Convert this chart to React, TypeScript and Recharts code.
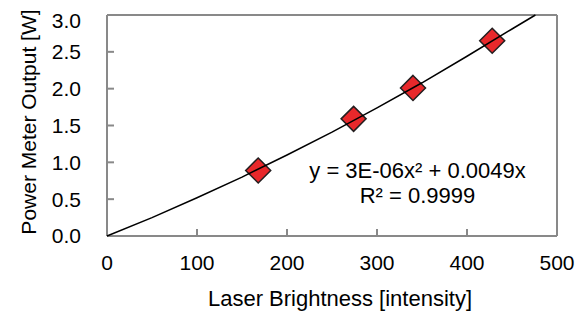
import { ScatterChart, Scatter, XAxis, YAxis, ReferenceLine, ReferenceDot } from 'recharts'

// measured points: brightness vs power meter output
const brightness = [168, 274, 340, 428]
const powerW = [0.89, 1.59, 2.01, 2.65]

// polynomial trendline
const trendX = [0, 50, 100, 150, 200, 250, 300, 350, 400, 450, 476]
const trendY = [0, 0.25, 0.52, 0.80, 1.10, 1.41, 1.74, 2.08, 2.44, 2.81, 3.0]

const xTicks = [0, 100, 200, 300, 400, 500]
const yTicks = [0, 0.5, 1.0, 1.5, 2.0, 2.5, 3.0]

const eqLine1 = 'y = 3E-06x² + 0.0049x'
const eqLine2 = 'R² = 0.9999'

const points = brightness.map((x, i) => ({ x, y: powerW[i] }))
const trend = trendX.map((x, i) => ({ x, y: trendY[i] }))

const FONT = '"Liberation Sans", Arial, sans-serif'
const AXIS = '#898989'

const Diamond = (props: any) => {
  const { cx, cy } = props
  const h = 12.5
  return (
    <path
      d={`M${cx},${cy - h} L${cx + h},${cy} L${cx},${cy + h} L${cx - h},${cy} Z`}
      fill="#e8282b"
      stroke="#231f20"
      strokeWidth={1.5}
    />
  )
}

export default function App() {
  return (
    <div style={{ fontFamily: FONT }}>
      <ScatterChart width={576} height={307} margin={{ top: 7, right: 27, left: 0, bottom: 0 }}>
        <XAxis
          type="number"
          dataKey="x"
          domain={[0, 500]}
          ticks={xTicks}
          height={79}
          stroke={AXIS}
          strokeWidth={2}
          tickSize={-7}
          tickMargin={26}
          tick={{ fill: '#000', fontSize: 21, fontFamily: FONT }}
          label={{ value: 'Laser Brightness [intensity]', position: 'insideBottom', offset: 9, dx: 8, fill: '#000', fontSize: 22, fontFamily: FONT }}
        />
        <YAxis
          type="number"
          dataKey="y"
          domain={[0, 3]}
          ticks={yTicks}
          width={99}
          stroke={AXIS}
          strokeWidth={2}
          tickSize={-7}
          tickMargin={33}
          tickFormatter={(v) => Number(v).toFixed(1)}
          tick={{ fill: '#000', fontSize: 21, fontFamily: FONT }}
          label={{
            content: () => (
              <text x={20} y={114} transform="rotate(-90, 20, 114)" textAnchor="middle" dominantBaseline="central" fill="#000" fontSize={21} fontFamily={FONT}>
                Power Meter Output [W]
              </text>
            ),
          }}
        />
        <ReferenceLine y={3} stroke={AXIS} strokeWidth={2} />
        <ReferenceLine x={500} stroke={AXIS} strokeWidth={2} />
        <Scatter data={points} shape={<Diamond />} isAnimationActive={false} />
        <Scatter
          data={trend}
          line={{ stroke: '#000', strokeWidth: 1.5 }}
          lineType="joint"
          shape={() => <g />}
          isAnimationActive={false}
        />
        <ReferenceDot
          x={345}
          y={0.79}
          r={1}
          fill="none"
          stroke="none"
          label={{
            content: (p: any) => {
              const vb = p.viewBox || {}
              const cx = (vb.x ?? 0) + (vb.width ?? 0) / 2
              const cy = (vb.y ?? 0) + (vb.height ?? 0) / 2
              return (
                <text textAnchor="middle" fill="#000" fontSize={22} fontFamily={FONT}>
                  <tspan x={cx} y={cy}>{eqLine1}</tspan>
                  <tspan x={cx} y={cy + 25}>{eqLine2}</tspan>
                </text>
              )
            },
          }}
        />
      </ScatterChart>
    </div>
  )
}
